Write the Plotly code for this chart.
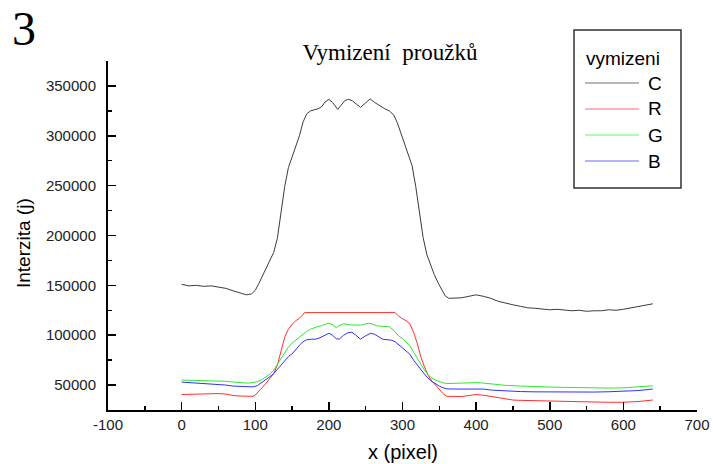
import plotly.graph_objects as go

# ---- data ----
x_C = [0, 10, 20, 30, 40, 50, 60, 70, 80, 88, 95, 100, 105, 110, 115, 120, 125, 130, 135, 140,
       145, 150, 155, 160, 165, 170, 175, 180, 185, 190, 195, 200, 205, 212, 218, 222, 227, 232,
       237, 243, 250, 256, 262, 268, 275, 282, 288, 293, 298, 303, 308, 313, 318, 323, 328, 333,
       338, 343, 348, 353, 358, 363, 370, 380, 390, 400, 410, 420, 430, 440, 450, 460, 470, 480,
       490, 500, 510, 520, 530, 540, 550, 560, 570, 580, 590, 600, 610, 620, 630, 640]
y_C = [151000, 149500, 150000, 149000, 149500, 148500, 147000, 144500, 142500, 140500, 141500,
       145000, 152000, 160000, 167000, 175000, 183000, 197000, 222000, 249000, 268000, 279000,
       289000, 300000, 314000, 322000, 325000, 326000, 327000, 329000, 334000, 336500, 333500,
       326500, 332500, 335500, 336500, 335000, 332000, 328500, 333000, 337000, 333500, 330500,
       327500, 325000, 321000, 313000, 302000, 291000, 281000, 270000, 249000, 224000, 198000,
       181000, 170000, 161000, 153000, 146000, 139500, 137000, 137500, 137500, 139000, 140500,
       139000, 137000, 134000, 132000, 130500, 129000, 127500, 127000, 126500, 125500, 126000,
       125000, 124500, 125000, 124000, 124500, 124500, 125500, 125000, 126000, 127500, 129000,
       130000, 131500]

x_R = [0, 10, 20, 30, 40, 50, 60, 70, 80, 90, 97, 100, 105, 110, 115, 120, 125, 130, 135, 140,
       145, 150, 155, 160, 164, 167, 290, 295, 300, 305, 310, 315, 320, 325, 330, 335, 340, 345,
       350, 355, 360, 370, 380, 390, 400, 410, 420, 430, 440, 450, 460, 470, 480, 500, 520, 540,
       560, 580, 600, 620, 640]
y_R = [40500, 40800, 41200, 41600, 41800, 41500, 41000, 39500, 39000, 38600, 38700, 40000, 43500,
       48000, 52000, 57000, 61500, 70000, 85000, 98000, 106000, 111000, 114500, 117000, 120000,
       122700, 122700, 119000, 116500, 114500, 111500, 103000, 92000, 78000, 68000, 59500, 54000,
       50000, 45500, 41500, 38700, 38300, 38500, 39500, 40500, 39800, 38500, 37000, 36000, 35000,
       34700, 34500, 34300, 34000, 33500, 33300, 32800, 32700, 32800, 33500, 35000]

x_G = [0, 10, 20, 30, 40, 50, 60, 70, 80, 90, 97, 105, 110, 115, 120, 125, 130, 135, 140, 145,
       150, 155, 160, 165, 170, 175, 180, 185, 190, 195, 200, 205, 210, 215, 220, 227, 235, 243,
       250, 255, 260, 265, 270, 275, 282, 288, 295, 300, 305, 310, 315, 320, 325, 330, 335, 340,
       345, 350, 355, 360, 370, 380, 390, 400, 410, 420, 430, 440, 460, 480, 500, 520, 540, 560,
       580, 600, 620, 640]
y_G = [55000, 54800, 54500, 54700, 54500, 54300, 53800, 53000, 52500, 52000, 52500, 54000, 56000,
       58500, 61000, 65000, 70500, 76000, 82000, 88000, 92000, 95000, 97500, 101000, 104000,
       106000, 107500, 108700, 109500, 111000, 112000, 110500, 107500, 110000, 111500, 110500,
       110000, 110000, 111500, 112000, 111000, 109500, 109000, 108700, 108500, 105000, 99000,
       96500, 93000, 89500, 83000, 77000, 70500, 65000, 60000, 57000, 55000, 53500, 52300, 51500,
       51800, 52000, 52300, 52500, 52000, 51000, 50300, 49700, 49000, 48300, 48000, 47700, 47300,
       47000, 47000, 47200, 48000, 49300]

x_B = [0, 10, 20, 30, 40, 50, 60, 70, 80, 90, 97, 103, 108, 115, 120, 125, 130, 137, 145, 151,
       155, 160, 165, 170, 177, 182, 188, 195, 200, 205, 210, 214, 220, 226, 231, 236, 243, 250,
       257, 262, 268, 273, 279, 285, 290, 295, 300, 305, 310, 315, 320, 326, 333, 340, 345, 350,
       355, 360, 370, 380, 390, 400, 410, 420, 440, 460, 480, 500, 520, 540, 560, 580, 600, 620,
       640]
y_B = [53000, 52500, 52000, 51500, 51300, 51000, 50000, 49000, 48500, 48000, 48200, 49500, 52000,
       55500, 58500, 61500, 66000, 72000, 78500, 82000, 86000, 90000, 93500, 95500, 96000, 96000,
       97500, 100500, 102000, 100000, 96500, 96000, 100000, 102500, 103000, 100500, 96000, 99500,
       102000, 101000, 98000, 96000, 95500, 95000, 93500, 90500, 87500, 84500, 81000, 75000,
       70000, 64000, 58000, 53600, 51000, 49000, 47300, 46200, 46000, 46000, 46200, 46300, 46000,
       45000, 44000, 43500, 43200, 43000, 43000, 43000, 43000, 43300, 43600, 44500, 46000]

series_names = ["C", "R", "G", "B"]
series_x = [x_C, x_R, x_G, x_B]
series_y = [y_C, y_R, y_G, y_B]
series_colors = ["#3c3c3c", "#ff3030", "#30e830", "#3030ff"]
legend_colors = ["#707070", "#ff6a6a", "#6aee6a", "#6a6aff"]

x_tickvals = [-100, 0, 100, 200, 300, 400, 500, 600, 700]
x_ticktext = ["-100", "0", "100", "200", "300", "400", "500", "600", "700"]
y_tickvals = [50000, 100000, 150000, 200000, 250000, 300000, 350000]
y_ticktext = ["50000", "100000", "150000", "200000", "250000", "300000", "350000"]

legend_title = "vymizeni"
chart_title = "Vymizení\u00a0\u00a0proužků"
panel_label = "3"

# ---- layout geometry (pixels) ----
W, H = 713, 464
L, R_, T, B = 108, 16, 61, 54
pw = W - L - R_
ph = H - T - B


def px(xp):
    return (xp - L) / pw


def py(yp):
    return (H - B - yp) / ph


SANS = "Liberation Sans, Arial, sans-serif"
SERIF = "Liberation Serif, Times New Roman, serif"

fig = go.Figure()
for name, xs, ys, col in zip(series_names, series_x, series_y, series_colors):
    fig.add_trace(go.Scatter(x=xs, y=ys, mode="lines", name=name,
                             line=dict(color=col, width=1), showlegend=False))

axis_font = dict(family=SANS, size=15, color="#222")

shapes = [dict(type="rect", xref="paper", yref="paper", x0=px(574), x1=px(681), y0=py(188), y1=py(30),
               line=dict(color="#333", width=1.5), fillcolor="white", layer="above")]
annotations = [
    dict(text=panel_label, x=px(24), y=py(29), xref="paper", yref="paper", showarrow=False,
         xanchor="center", yanchor="middle", font=dict(family=SERIF, size=48, color="black")),
    dict(text=legend_title, x=px(584), y=py(58), xref="paper", yref="paper", showarrow=False,
         xanchor="left", yanchor="middle", font=dict(family=SANS, size=19, color="black")),
    dict(text="Interzita (j)", x=px(23), y=py(243), xref="paper", yref="paper", showarrow=False,
         xanchor="center", yanchor="middle", textangle=-90, font=dict(family=SANS, size=19, color="black")),
    dict(text="x (pixel)", x=px(403), y=py(452), xref="paper", yref="paper", showarrow=False,
         xanchor="center", yanchor="middle", font=dict(family=SANS, size=20, color="black")),
]
entry_y = [83, 109, 135, 161]
for name, col, ey in zip(series_names, legend_colors, entry_y):
    shapes.append(dict(type="line", xref="paper", yref="paper", x0=px(585), x1=px(639), y0=py(ey), y1=py(ey),
                       line=dict(color=col, width=1.2), layer="above"))
    annotations.append(dict(text=name, x=px(646), y=py(ey), xref="paper", yref="paper", showarrow=False,
                            xanchor="left", yanchor="middle", font=dict(family=SANS, size=19, color="black")))

fig.update_layout(
    width=W, height=H,
    margin=dict(l=L, r=R_, t=T, b=B, autoexpand=False),
    paper_bgcolor="white", plot_bgcolor="white",
    showlegend=False,
    title=dict(text=chart_title, x=px(390), xref="paper",
               y=1 - 52 / H, yref="container", xanchor="center", yanchor="middle",
               font=dict(family=SERIF, size=23, color="black")),
    xaxis=dict(range=[-100, 700], tickvals=x_tickvals, ticktext=x_ticktext, ticks="inside", ticklen=8,
               tickwidth=1.5, tickcolor="black", showline=True, linecolor="black", linewidth=2,
               showgrid=False, zeroline=False, tickfont=axis_font, automargin=False,
               minor=dict(dtick=50, tick0=0, ticks="inside", ticklen=4, tickwidth=1.5, tickcolor="black", showgrid=False)),
    yaxis=dict(range=[25000, 375000], tickvals=y_tickvals, ticktext=y_ticktext, ticks="inside", ticklen=8,
               tickwidth=1.5, tickcolor="black", showline=True, linecolor="black", linewidth=2,
               showgrid=False, zeroline=False, tickfont=axis_font, ticklabelstandoff=7, automargin=False,
               minor=dict(dtick=25000, tick0=0, ticks="inside", ticklen=4, tickwidth=1.5, tickcolor="black", showgrid=False)),
    shapes=shapes,
    annotations=annotations,
)

fig.write_html("out.html", config={"displayModeBar": False, "staticPlot": True},
               post_script="document.body.style.margin='0';document.body.style.overflow='hidden';")
